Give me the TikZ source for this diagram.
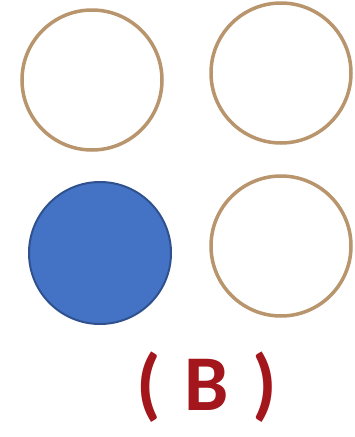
\documentclass[tikz,border=0pt]{standalone}
\usepackage{fontspec}
\setmainfont{Carlito}
\definecolor{ringc}{HTML}{B8956C}
\definecolor{bluef}{HTML}{4472C4}
\definecolor{blued}{HTML}{2F528F}
\definecolor{labelc}{HTML}{A3161B}
\begin{document}
\begin{tikzpicture}[x=1pt,y=-1pt,
  ring/.style={draw=ringc,line width=3.5pt,fill=white},
  dot/.style={draw=blued,line width=2pt,fill=bluef}]
\useasboundingbox (0,0) rectangle (355,437);
\fill[white] (0,0) rectangle (355,437);
\draw[ring] (92,80) circle (70);
\draw[ring] (281,73) circle (70);
\draw[dot] (100,253) circle (71);
\draw[ring] (281,246) circle (70);
\node[text=labelc,font=\bfseries\fontsize{79}{90}\selectfont,inner sep=0pt] (lbl) at (207,387) {(\hspace{0.3em}B\hspace{0.3em})};
\end{tikzpicture}
\end{document}
